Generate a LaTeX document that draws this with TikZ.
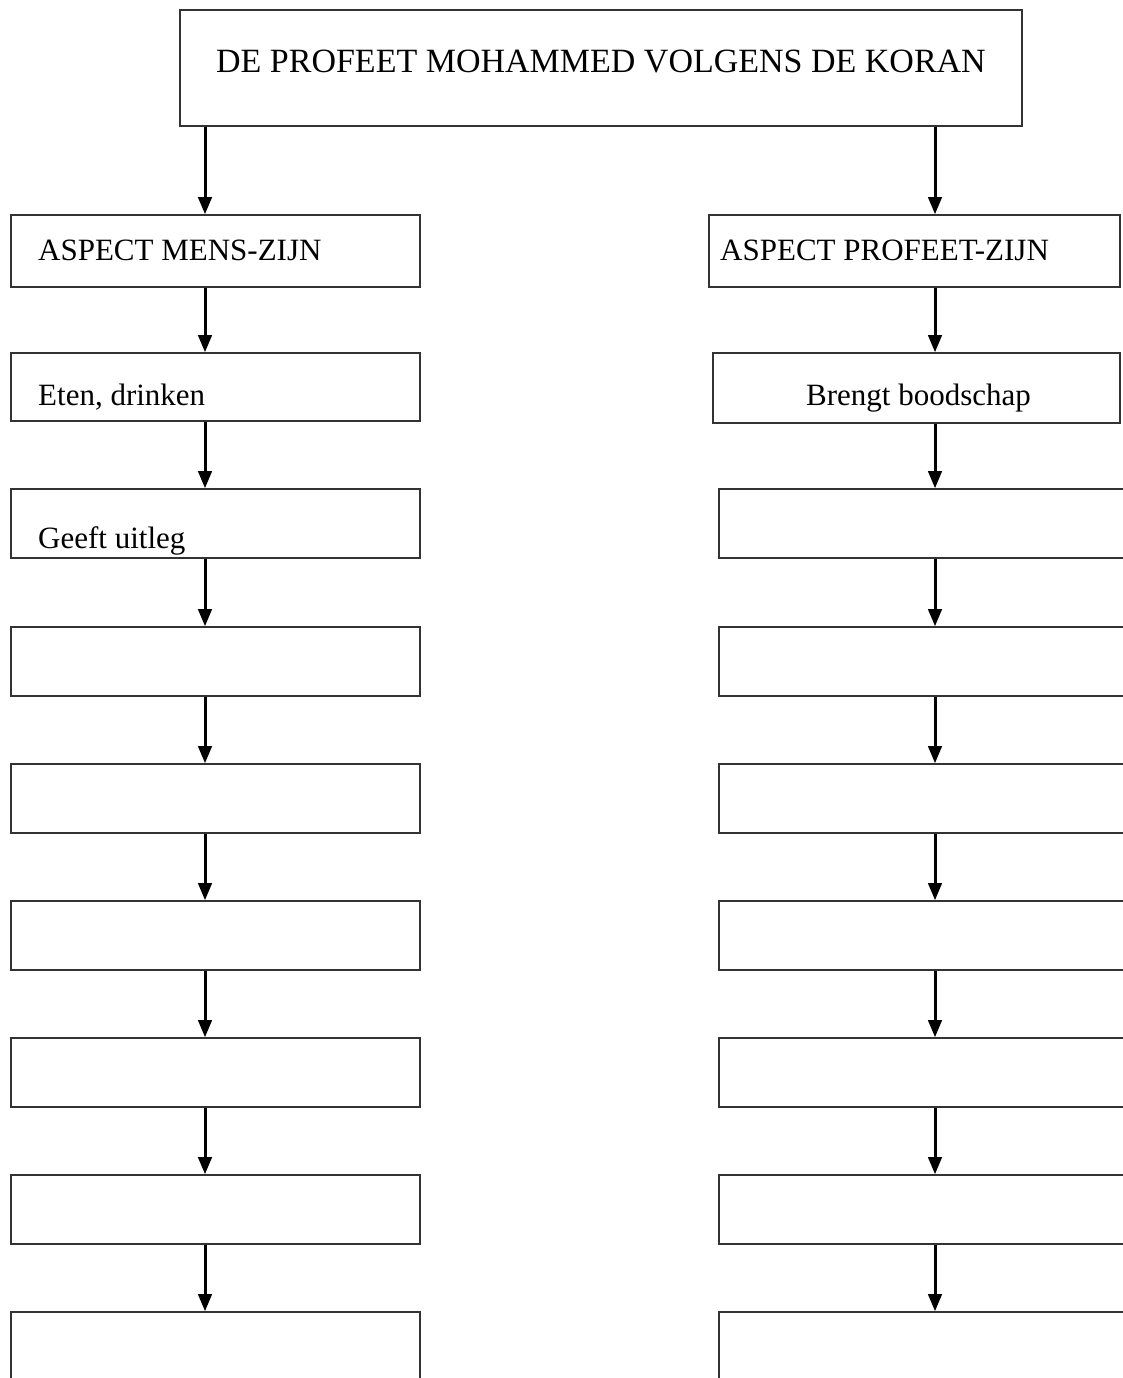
\documentclass[tikz,border=0pt]{standalone}
\usepackage{fontspec}
\setmainfont{Liberation Serif}
\usetikzlibrary{arrows}

\tikzset{
	vak/.style={draw=black!80, line width=2pt, rectangle, inner sep=0pt, anchor=north west, minimum width=409pt, minimum height=69pt},
	pijl/.style={->, >=triangle 45, line width=3pt},
	tekst/.style={anchor=base west, inner sep=0pt, font=\fontsize{31}{37}\selectfont}
}

\begin{document}
\begin{tikzpicture}[x=1pt, y=-1pt]
		\useasboundingbox (0,0) rectangle (1123,1378);
		\coordinate (linksas) at (205,0);
		\coordinate (rechtsas) at (935,0);

		% titel
		\node [vak, minimum width=842pt, minimum height=116pt] (koran) at (179,9) {};
		\node [tekst, anchor=base, font=\fontsize{34}{40}\selectfont] (koranT) at (601,73) {DE PROFEET MOHAMMED VOLGENS DE KORAN};

		% eerste twee rijen
		\node [vak, minimum height=72pt] (mens) at (10,214) {};
		\node [vak, minimum width=411pt, minimum height=72pt] (profeet) at (708,214) {};
		\node [vak, minimum height=68pt] (eten) at (10,352) {};
		\node [vak, minimum width=407pt, minimum height=70pt] (boodschap) at (712,352) {};

		\node [tekst] (mensT) at (38,260) {ASPECT MENS-ZIJN};
		\node [tekst] (profeetT) at (720,260) {ASPECT PROFEET-ZIJN};
		\node [tekst] (etenT) at (38,405) {Eten, drinken};
		\node [tekst] (boodschapT) at (806,405) {Brengt boodschap};

		\draw [pijl] (koran.south -| linksas) -- (mens.north -| linksas);
		\draw [pijl] (koran.south -| rechtsas) -- (profeet.north -| rechtsas);
		\draw [pijl] (mens.south -| linksas) -- (eten.north -| linksas);
		\draw [pijl] (profeet.south -| rechtsas) -- (boodschap.north -| rechtsas);

		% lege rijen
		\foreach \r/\y in {3/488,4/626,5/763,6/900,7/1037,8/1174,9/1311}{
			\node [vak] (L\r) at (10,\y) {};
			\node [vak, minimum width=420pt] (R\r) at (718,\y) {};
		}
		\node [tekst] (uitlegT) at (38,548) {Geeft uitleg};

		\draw [pijl] (eten.south -| linksas) -- (L3.north -| linksas);
		\draw [pijl] (boodschap.south -| rechtsas) -- (R3.north -| rechtsas);
		\foreach \r [count=\s from 4] in {3,...,8}{
			\draw [pijl] (L\r.south -| linksas) -- (L\s.north -| linksas);
			\draw [pijl] (R\r.south -| rechtsas) -- (R\s.north -| rechtsas);
		}
	\end{tikzpicture}
\end{document}
